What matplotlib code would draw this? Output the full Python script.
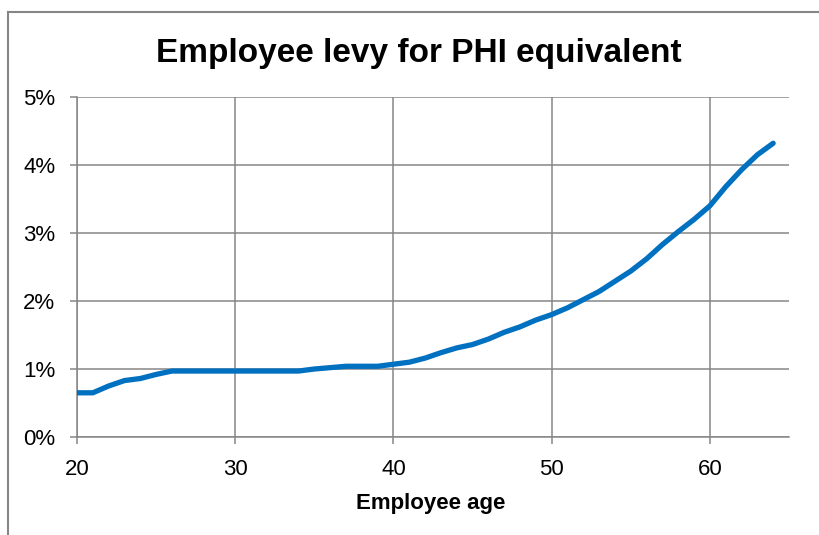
import matplotlib
matplotlib.use("Agg")
import matplotlib.pyplot as plt
from matplotlib.lines import Line2D
from matplotlib.ticker import FuncFormatter

ages = list(range(20, 65))
levy_pct = [0.65, 0.65, 0.75, 0.83, 0.86, 0.92, 0.97, 0.97, 0.97, 0.97,
            0.97, 0.97, 0.97, 0.97, 0.97, 1.00, 1.02, 1.04, 1.04, 1.04,
            1.07, 1.10, 1.16, 1.24, 1.31, 1.36, 1.44, 1.54, 1.62, 1.72,
            1.80, 1.90, 2.02, 2.14, 2.29, 2.44, 2.62, 2.83, 3.02, 3.20,
            3.40, 3.68, 3.93, 4.15, 4.32]
x_ticks = [20, 30, 40, 50, 60]
y_ticks = [0, 1, 2, 3, 4, 5]
title = "Employee levy for PHI equivalent"
x_label = "Employee age"

plt.rcParams['font.family'] = ['Liberation Sans', 'DejaVu Sans']

W, H = 819, 535
fig = plt.figure(figsize=(W / 100, H / 100), dpi=100)
ax = fig.add_axes([77 / W, 1 - 437 / H, (789 - 77) / W, (437 - 97) / H])

grid_c = '#868686'
ax.plot(ages, levy_pct, color='#0070C0', lw=3.8, solid_capstyle='round', zorder=3)
ax.set_xlim(20, 65)
ax.set_ylim(0, 5)
ax.set_xticks(x_ticks)
ax.set_yticks(y_ticks)
ax.yaxis.set_major_formatter(FuncFormatter(lambda v, p: f"{int(v)}%"))
ax.grid(True, color=grid_c, lw=1.1, zorder=0)
for s in ['top', 'right']:
    ax.spines[s].set_visible(False)
for s in ['left', 'bottom']:
    ax.spines[s].set_color(grid_c)
    ax.spines[s].set_linewidth(1.1)
ax.tick_params(axis='both', colors=grid_c, length=5, width=1.1, labelsize=16,
               labelcolor='black')
ax.tick_params(axis='x', pad=10.5)
ax.tick_params(axis='y', pad=10.5)

fig.text(431 / W, 1 - 509 / H, x_label, ha='center', va='baseline', fontsize=16,
         fontweight='bold')
fig.text(419 / W, 1 - 62 / H, title, ha='center', va='baseline', fontsize=24,
         fontweight='bold')

# chart border (left and top visible)
fig.add_artist(Line2D([8 / W, 8 / W], [0, 1 - 12 / H], color=grid_c, lw=1.5,
                      transform=fig.transFigure))
fig.add_artist(Line2D([8 / W, 1], [1 - 12 / H, 1 - 12 / H], color=grid_c, lw=1.5,
                      transform=fig.transFigure))

fig.savefig('out.png', dpi=100)
